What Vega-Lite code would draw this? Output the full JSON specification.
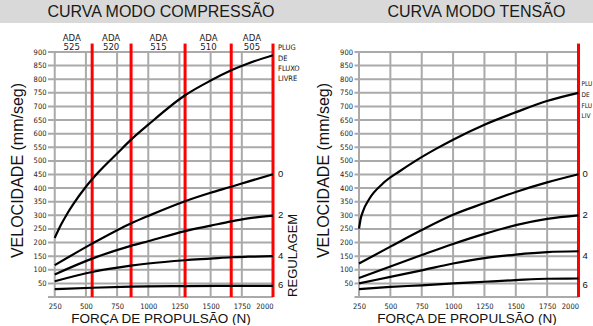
{
  "$schema": "https://vega.github.io/schema/vega-lite/v6.json",
  "padding": 0,
  "background": "white",
  "spacing": 9,
  "config": {
    "view": {"stroke": null},
    "font": "Liberation Sans",
    "axis": {
      "grid": false,
      "domain": false,
      "ticks": false,
      "labelFont": "DejaVu Sans Condensed, Liberation Sans",
      "labelFontSize": 7.5,
      "labelColor": "#222222",
      "labelOverlap": false,
      "titleFont": "Liberation Sans",
      "titleFontWeight": "normal",
      "titleColor": "#111111"
    },
    "axisX": {"labelPadding": 5, "titleFontSize": 13.5, "titlePadding": 1.5},
    "axisY": {"labelPadding": 2, "titleFontSize": 16, "titlePadding": 8, "titleY": 118}
  },
  "datasets": {
    "comp": [
      {"reg": "livre", "forca": 250, "vel": 217}, {"reg": "livre", "forca": 300, "vel": 265}, {"reg": "livre", "forca": 350, "vel": 306},
      {"reg": "livre", "forca": 400, "vel": 342}, {"reg": "livre", "forca": 500, "vel": 405}, {"reg": "livre", "forca": 600, "vel": 458},
      {"reg": "livre", "forca": 750, "vel": 527}, {"reg": "livre", "forca": 862, "vel": 578}, {"reg": "livre", "forca": 1000, "vel": 633},
      {"reg": "livre", "forca": 1295, "vel": 741}, {"reg": "livre", "forca": 1500, "vel": 795}, {"reg": "livre", "forca": 1665, "vel": 833},
      {"reg": "livre", "forca": 1800, "vel": 858}, {"reg": "livre", "forca": 2000, "vel": 888},
      {"reg": "0", "forca": 250, "vel": 117}, {"reg": "0", "forca": 550, "vel": 196}, {"reg": "0", "forca": 860, "vel": 270},
      {"reg": "0", "forca": 1000, "vel": 298}, {"reg": "0", "forca": 1295, "vel": 352}, {"reg": "0", "forca": 1500, "vel": 383},
      {"reg": "0", "forca": 1665, "vel": 405}, {"reg": "0", "forca": 1800, "vel": 424}, {"reg": "0", "forca": 2000, "vel": 451},
      {"reg": "2", "forca": 250, "vel": 83}, {"reg": "2", "forca": 550, "vel": 141}, {"reg": "2", "forca": 860, "vel": 188},
      {"reg": "2", "forca": 1000, "vel": 205}, {"reg": "2", "forca": 1295, "vel": 242}, {"reg": "2", "forca": 1500, "vel": 262},
      {"reg": "2", "forca": 1665, "vel": 278}, {"reg": "2", "forca": 1800, "vel": 289}, {"reg": "2", "forca": 2000, "vel": 299},
      {"reg": "4", "forca": 250, "vel": 58}, {"reg": "4", "forca": 550, "vel": 92}, {"reg": "4", "forca": 860, "vel": 115},
      {"reg": "4", "forca": 1000, "vel": 123}, {"reg": "4", "forca": 1295, "vel": 135}, {"reg": "4", "forca": 1500, "vel": 141},
      {"reg": "4", "forca": 1665, "vel": 146}, {"reg": "4", "forca": 1800, "vel": 148}, {"reg": "4", "forca": 2000, "vel": 150},
      {"reg": "6", "forca": 250, "vel": 29}, {"reg": "6", "forca": 550, "vel": 34}, {"reg": "6", "forca": 860, "vel": 38},
      {"reg": "6", "forca": 1295, "vel": 40}, {"reg": "6", "forca": 1665, "vel": 41}, {"reg": "6", "forca": 2000, "vel": 41}
    ],
    "tens": [
      {"reg": "livre", "forca": 250, "vel": 251}, {"reg": "livre", "forca": 262, "vel": 285}, {"reg": "livre", "forca": 280, "vel": 313},
      {"reg": "livre", "forca": 334, "vel": 362}, {"reg": "livre", "forca": 440, "vel": 417}, {"reg": "livre", "forca": 574, "vel": 462},
      {"reg": "livre", "forca": 707, "vel": 502}, {"reg": "livre", "forca": 867, "vel": 545}, {"reg": "livre", "forca": 1000, "vel": 578},
      {"reg": "livre", "forca": 1250, "vel": 633}, {"reg": "livre", "forca": 1508, "vel": 680}, {"reg": "livre", "forca": 1748, "vel": 720},
      {"reg": "livre", "forca": 2000, "vel": 750},
      {"reg": "0", "forca": 250, "vel": 123}, {"reg": "0", "forca": 500, "vel": 185}, {"reg": "0", "forca": 750, "vel": 246},
      {"reg": "0", "forca": 1000, "vel": 302}, {"reg": "0", "forca": 1250, "vel": 345}, {"reg": "0", "forca": 1500, "vel": 386},
      {"reg": "0", "forca": 1750, "vel": 421}, {"reg": "0", "forca": 2000, "vel": 451},
      {"reg": "2", "forca": 250, "vel": 70}, {"reg": "2", "forca": 500, "vel": 112}, {"reg": "2", "forca": 750, "vel": 154},
      {"reg": "2", "forca": 1000, "vel": 195}, {"reg": "2", "forca": 1250, "vel": 232}, {"reg": "2", "forca": 1500, "vel": 264},
      {"reg": "2", "forca": 1750, "vel": 287}, {"reg": "2", "forca": 2000, "vel": 300},
      {"reg": "4", "forca": 250, "vel": 50}, {"reg": "4", "forca": 500, "vel": 74}, {"reg": "4", "forca": 750, "vel": 98},
      {"reg": "4", "forca": 1000, "vel": 123}, {"reg": "4", "forca": 1250, "vel": 143}, {"reg": "4", "forca": 1500, "vel": 156},
      {"reg": "4", "forca": 1750, "vel": 165}, {"reg": "4", "forca": 2000, "vel": 168},
      {"reg": "6", "forca": 250, "vel": 29}, {"reg": "6", "forca": 500, "vel": 37}, {"reg": "6", "forca": 750, "vel": 43},
      {"reg": "6", "forca": 1000, "vel": 50}, {"reg": "6", "forca": 1250, "vel": 56}, {"reg": "6", "forca": 1500, "vel": 62},
      {"reg": "6", "forca": 1750, "vel": 67}, {"reg": "6", "forca": 2000, "vel": 68}
    ],
    "gradeX": [{"forca": 250}, {"forca": 500}, {"forca": 750}, {"forca": 1000}, {"forca": 1250}, {"forca": 1500}, {"forca": 1750}, {"forca": 2000}],
    "gradeY": [{"vel": 0}, {"vel": 50}, {"vel": 100}, {"vel": 150}, {"vel": 200}, {"vel": 250}, {"vel": 300}, {"vel": 350}, {"vel": 400}, {"vel": 450},
      {"vel": 500}, {"vel": 550}, {"vel": 600}, {"vel": 650}, {"vel": 700}, {"vel": 750}, {"vel": 800}, {"vel": 850}, {"vel": 900}],
    "ada": [
      {"forca": 386, "ada": "ADA\n525"}, {"forca": 702, "ada": "ADA\n520"}, {"forca": 1082, "ada": "ADA\n515"},
      {"forca": 1483, "ada": "ADA\n510"}, {"forca": 1831, "ada": "ADA\n505"}
    ],
    "vermComp": [{"forca": 550}, {"forca": 862}, {"forca": 1295}, {"forca": 1665}, {"forca": 2000}],
    "vermTens": [{"forca": 2000}],
    "regs": [{"reg": "0", "nivel": 451}, {"reg": "2", "nivel": 303}, {"reg": "4", "nivel": 149}, {"reg": "6", "nivel": 43}],
    "um": [{"n": 1}]
  },
  "vconcat": [
    {
      "width": 593,
      "height": 23,
      "view": {"fill": "#d9d9d9", "stroke": null},
      "data": {"values": [{"titulo": "CURVA MODO COMPRESSÃO"}, {"titulo": "CURVA MODO TENSÃO"}]},
      "mark": {"type": "text", "fontSize": 16, "font": "Liberation Sans", "color": "#1a1a1a", "baseline": "middle"},
      "encoding": {
        "x": {"field": "titulo", "type": "nominal", "sort": null, "axis": null, "scale": {"type": "point", "padding": 0.44, "align": 0.58}},
        "text": {"field": "titulo"}
      }
    },
    {
      "spacing": 8,
      "hconcat": [
        {
          "width": 1,
          "height": 1,
          "data": {"name": "um"},
          "mark": {"type": "text"},
          "encoding": {"text": {"value": ""}}
        },
        {
          "spacing": 15.5,
          "hconcat": [
            {
              "width": 225,
              "height": 245,
              "layer": [
                {
                  "data": {"name": "gradeY"},
                  "mark": {"type": "rule", "color": "#aaaaaa", "strokeWidth": 2},
                  "encoding": {
                    "y": {"field": "vel", "type": "quantitative", "scale": {"domain": [0, 900], "nice": false},
                      "axis": {"grid": false, "labelOverlap": false, "values": [0, 50, 100, 150, 200, 250, 300, 350, 400, 450, 500, 550, 600, 650, 700, 750, 800, 850, 900],
                        "labelExpr": "datum.value == 0 ? '' : datum.label", "title": "VELOCIDADE (mm/seg)"}}
                  }
                },
                {
                  "data": {"name": "gradeX"},
                  "mark": {"type": "rule", "color": "#aaaaaa", "strokeWidth": 2},
                  "encoding": {
                    "x": {"field": "forca", "type": "quantitative", "scale": {"domain": [196, 2000], "nice": false, "zero": false},
                      "axis": {"grid": false, "labelOverlap": false, "values": [250, 500, 750, 1000, 1250, 1500, 1750, 2000], "format": "d", "title": "FORÇA DE PROPULSÃO (N)"}}
                  }
                },
                {
                  "data": {"name": "vermComp"},
                  "mark": {"type": "rule", "color": "#ff0000", "strokeWidth": 3},
                  "encoding": {
                    "x": {"field": "forca", "type": "quantitative", "scale": {"domain": [196, 2000], "nice": false, "zero": false},
                      "axis": {"grid": false, "labelOverlap": false, "values": [250, 500, 750, 1000, 1250, 1500, 1750, 2000], "format": "d", "title": "FORÇA DE PROPULSÃO (N)"}},
                    "y": {"datum": 0, "type": "quantitative", "scale": {"domain": [0, 900], "nice": false},
                      "axis": {"grid": false, "labelOverlap": false, "values": [0, 50, 100, 150, 200, 250, 300, 350, 400, 450, 500, 550, 600, 650, 700, 750, 800, 850, 900],
                        "labelExpr": "datum.value == 0 ? '' : datum.label", "title": "VELOCIDADE (mm/seg)"}},
                    "y2": {"datum": 931}
                  }
                },
                {
                  "data": {"name": "comp"},
                  "mark": {"type": "line", "color": "#000000", "strokeWidth": 2.2, "interpolate": "monotone"},
                  "encoding": {
                    "x": {"field": "forca", "type": "quantitative", "scale": {"domain": [196, 2000], "nice": false, "zero": false},
                      "axis": {"grid": false, "labelOverlap": false, "values": [250, 500, 750, 1000, 1250, 1500, 1750, 2000], "format": "d", "title": "FORÇA DE PROPULSÃO (N)"}},
                    "y": {"field": "vel", "type": "quantitative", "scale": {"domain": [0, 900], "nice": false},
                      "axis": {"grid": false, "labelOverlap": false, "values": [0, 50, 100, 150, 200, 250, 300, 350, 400, 450, 500, 550, 600, 650, 700, 750, 800, 850, 900],
                        "labelExpr": "datum.value == 0 ? '' : datum.label", "title": "VELOCIDADE (mm/seg)"}},
                    "detail": {"field": "reg"}
                  }
                },
                {
                  "data": {"name": "ada"},
                  "mark": {"type": "text", "font": "DejaVu Sans Condensed, Liberation Sans", "fontSize": 9.5, "lineBreak": "\n", "lineHeight": 9.5, "baseline": "middle", "color": "#222222"},
                  "encoding": {
                    "x": {"field": "forca", "type": "quantitative", "scale": {"domain": [196, 2000], "nice": false, "zero": false},
                      "axis": {"grid": false, "labelOverlap": false, "values": [250, 500, 750, 1000, 1250, 1500, 1750, 2000], "format": "d", "title": "FORÇA DE PROPULSÃO (N)"}},
                    "y": {"datum": 952, "type": "quantitative", "scale": {"domain": [0, 900], "nice": false},
                      "axis": {"grid": false, "labelOverlap": false, "values": [0, 50, 100, 150, 200, 250, 300, 350, 400, 450, 500, 550, 600, 650, 700, 750, 800, 850, 900],
                        "labelExpr": "datum.value == 0 ? '' : datum.label", "title": "VELOCIDADE (mm/seg)"}},
                    "text": {"field": "ada"}
                  }
                },
                {
                  "data": {"name": "um"},
                  "mark": {"type": "text", "font": "DejaVu Sans Condensed, Liberation Sans", "fontSize": 7.5, "lineBreak": "\n", "lineHeight": 10.3, "baseline": "middle", "align": "left", "dx": 5, "color": "#111111"},
                  "encoding": {
                    "x": {"datum": 2000, "type": "quantitative", "scale": {"domain": [196, 2000], "nice": false, "zero": false},
                      "axis": {"grid": false, "labelOverlap": false, "values": [250, 500, 750, 1000, 1250, 1500, 1750, 2000], "format": "d", "title": "FORÇA DE PROPULSÃO (N)"}},
                    "y": {"datum": 913, "type": "quantitative", "scale": {"domain": [0, 900], "nice": false},
                      "axis": {"grid": false, "labelOverlap": false, "values": [0, 50, 100, 150, 200, 250, 300, 350, 400, 450, 500, 550, 600, 650, 700, 750, 800, 850, 900],
                        "labelExpr": "datum.value == 0 ? '' : datum.label", "title": "VELOCIDADE (mm/seg)"}},
                    "text": {"value": "PLUG\nDE\nFLUXO\nLIVRE"}
                  }
                },
                {
                  "data": {"name": "regs"},
                  "mark": {"type": "text", "fontSize": 9.5, "baseline": "middle", "align": "left", "dx": 5, "color": "#111111"},
                  "encoding": {
                    "x": {"datum": 2000, "type": "quantitative", "scale": {"domain": [196, 2000], "nice": false, "zero": false},
                      "axis": {"grid": false, "labelOverlap": false, "values": [250, 500, 750, 1000, 1250, 1500, 1750, 2000], "format": "d", "title": "FORÇA DE PROPULSÃO (N)"}},
                    "y": {"field": "nivel", "type": "quantitative", "scale": {"domain": [0, 900], "nice": false},
                      "axis": {"grid": false, "labelOverlap": false, "values": [0, 50, 100, 150, 200, 250, 300, 350, 400, 450, 500, 550, 600, 650, 700, 750, 800, 850, 900],
                        "labelExpr": "datum.value == 0 ? '' : datum.label", "title": "VELOCIDADE (mm/seg)"}},
                    "text": {"field": "reg"}
                  }
                },
                {
                  "data": {"name": "um"},
                  "mark": {"type": "text", "fontSize": 13, "baseline": "middle", "align": "center", "angle": 270, "dy": 20, "color": "#111111"},
                  "encoding": {
                    "x": {"datum": 2000, "type": "quantitative", "scale": {"domain": [196, 2000], "nice": false, "zero": false},
                      "axis": {"grid": false, "labelOverlap": false, "values": [250, 500, 750, 1000, 1250, 1500, 1750, 2000], "format": "d", "title": "FORÇA DE PROPULSÃO (N)"}},
                    "y": {"datum": 153, "type": "quantitative", "scale": {"domain": [0, 900], "nice": false},
                      "axis": {"grid": false, "labelOverlap": false, "values": [0, 50, 100, 150, 200, 250, 300, 350, 400, 450, 500, 550, 600, 650, 700, 750, 800, 850, 900],
                        "labelExpr": "datum.value == 0 ? '' : datum.label", "title": "VELOCIDADE (mm/seg)"}},
                    "text": {"value": "REGULAGEM"}
                  }
                }
              ]
            },
            {
              "width": 224,
              "height": 245,
              "layer": [
                {
                  "data": {"name": "gradeY"},
                  "mark": {"type": "rule", "color": "#aaaaaa", "strokeWidth": 2},
                  "encoding": {
                    "y": {"field": "vel", "type": "quantitative", "scale": {"domain": [0, 900], "nice": false},
                      "axis": {"grid": false, "labelOverlap": false, "values": [0, 50, 100, 150, 200, 250, 300, 350, 400, 450, 500, 550, 600, 650, 700, 750, 800, 850, 900],
                        "labelExpr": "datum.value == 0 ? '' : datum.label", "title": "VELOCIDADE (mm/seg)"}}
                  }
                },
                {
                  "data": {"name": "gradeX"},
                  "mark": {"type": "rule", "color": "#aaaaaa", "strokeWidth": 2},
                  "encoding": {
                    "x": {"field": "forca", "type": "quantitative", "scale": {"domain": [214, 2000], "nice": false, "zero": false},
                      "axis": {"grid": false, "labelOverlap": false, "values": [250, 500, 750, 1000, 1250, 1500, 1750, 2000], "format": "d", "title": "FORÇA DE PROPULSÃO (N)"}}
                  }
                },
                {
                  "data": {"name": "vermTens"},
                  "mark": {"type": "rule", "color": "#ff0000", "strokeWidth": 3},
                  "encoding": {
                    "x": {"field": "forca", "type": "quantitative", "scale": {"domain": [214, 2000], "nice": false, "zero": false},
                      "axis": {"grid": false, "labelOverlap": false, "values": [250, 500, 750, 1000, 1250, 1500, 1750, 2000], "format": "d", "title": "FORÇA DE PROPULSÃO (N)"}},
                    "y": {"datum": 0, "type": "quantitative", "scale": {"domain": [0, 900], "nice": false},
                      "axis": {"grid": false, "labelOverlap": false, "values": [0, 50, 100, 150, 200, 250, 300, 350, 400, 450, 500, 550, 600, 650, 700, 750, 800, 850, 900],
                        "labelExpr": "datum.value == 0 ? '' : datum.label", "title": "VELOCIDADE (mm/seg)"}},
                    "y2": {"datum": 931}
                  }
                },
                {
                  "data": {"name": "tens"},
                  "mark": {"type": "line", "color": "#000000", "strokeWidth": 2.2, "interpolate": "monotone"},
                  "encoding": {
                    "x": {"field": "forca", "type": "quantitative", "scale": {"domain": [214, 2000], "nice": false, "zero": false},
                      "axis": {"grid": false, "labelOverlap": false, "values": [250, 500, 750, 1000, 1250, 1500, 1750, 2000], "format": "d", "title": "FORÇA DE PROPULSÃO (N)"}},
                    "y": {"field": "vel", "type": "quantitative", "scale": {"domain": [0, 900], "nice": false},
                      "axis": {"grid": false, "labelOverlap": false, "values": [0, 50, 100, 150, 200, 250, 300, 350, 400, 450, 500, 550, 600, 650, 700, 750, 800, 850, 900],
                        "labelExpr": "datum.value == 0 ? '' : datum.label", "title": "VELOCIDADE (mm/seg)"}},
                    "detail": {"field": "reg"}
                  }
                },
                {
                  "data": {"name": "um"},
                  "mark": {"type": "text", "font": "DejaVu Sans Condensed, Liberation Sans", "fontSize": 6.5, "lineBreak": "\n", "lineHeight": 10.7, "baseline": "middle", "align": "left", "dx": 3, "limit": 11.5, "ellipsis": "\u200b", "color": "#111111"},
                  "encoding": {
                    "x": {"datum": 2000, "type": "quantitative", "scale": {"domain": [214, 2000], "nice": false, "zero": false},
                      "axis": {"grid": false, "labelOverlap": false, "values": [250, 500, 750, 1000, 1250, 1500, 1750, 2000], "format": "d", "title": "FORÇA DE PROPULSÃO (N)"}},
                    "y": {"datum": 782, "type": "quantitative", "scale": {"domain": [0, 900], "nice": false},
                      "axis": {"grid": false, "labelOverlap": false, "values": [0, 50, 100, 150, 200, 250, 300, 350, 400, 450, 500, 550, 600, 650, 700, 750, 800, 850, 900],
                        "labelExpr": "datum.value == 0 ? '' : datum.label", "title": "VELOCIDADE (mm/seg)"}},
                    "text": {"value": "PLUG\nDE\nFLUXO\nLIVRE"}
                  }
                },
                {
                  "data": {"name": "regs"},
                  "mark": {"type": "text", "fontSize": 9.5, "baseline": "middle", "align": "left", "dx": 4, "color": "#111111"},
                  "encoding": {
                    "x": {"datum": 2000, "type": "quantitative", "scale": {"domain": [214, 2000], "nice": false, "zero": false},
                      "axis": {"grid": false, "labelOverlap": false, "values": [250, 500, 750, 1000, 1250, 1500, 1750, 2000], "format": "d", "title": "FORÇA DE PROPULSÃO (N)"}},
                    "y": {"field": "nivel", "type": "quantitative", "scale": {"domain": [0, 900], "nice": false},
                      "axis": {"grid": false, "labelOverlap": false, "values": [0, 50, 100, 150, 200, 250, 300, 350, 400, 450, 500, 550, 600, 650, 700, 750, 800, 850, 900],
                        "labelExpr": "datum.value == 0 ? '' : datum.label", "title": "VELOCIDADE (mm/seg)"}},
                    "text": {"field": "reg"}
                  }
                }
              ]
            }
          ]
        }
      ]
    }
  ]
}
